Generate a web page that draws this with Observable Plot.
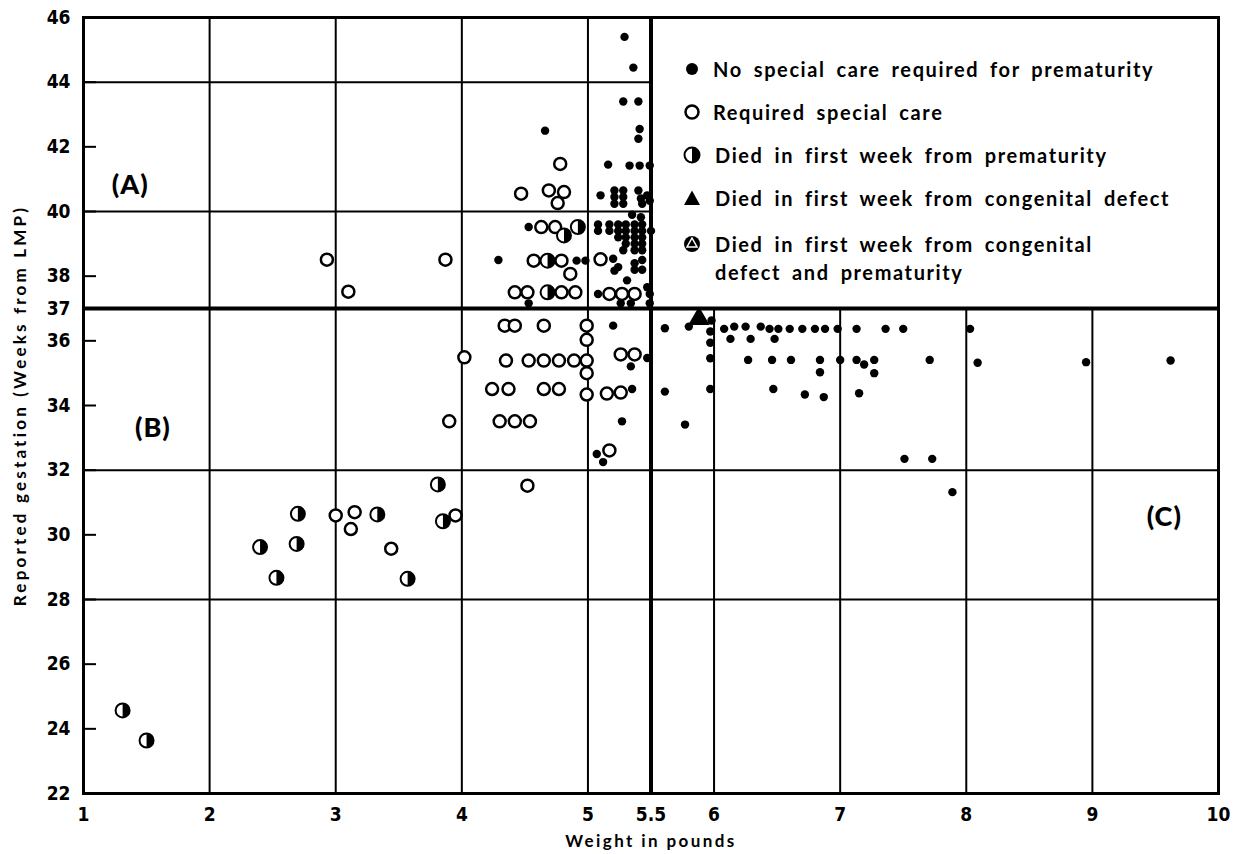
<!DOCTYPE html>
<html>
<head>
<meta charset="utf-8">
<script src="https://cdn.jsdelivr.net/npm/d3@7"></script>
<script src="https://cdn.jsdelivr.net/npm/@observablehq/plot@0.6"></script>
<style>
  body { margin: 0; background: #fff; }
  #wrap { position: relative; width: 1241px; height: 854px; }
  #wrap svg { display: block; }
  .lg { position: absolute; font-family: Lato, "DejaVu Sans", sans-serif; font-weight: 700; font-size: 20px; letter-spacing: 1.6px; word-spacing: 4.5px; color: #000; white-space: nowrap; line-height: 28px; }
  .lgm { position: absolute; }
  [aria-label="x-axis tick label"] text, [aria-label="y-axis tick label"] text { font-stretch: condensed; }
  .ttl { letter-spacing: 2.4px; }
  .ttly { letter-spacing: 3.2px; }
  .rgn { letter-spacing: 1px; }
</style>
</head>
<body>
<div id="wrap"></div>
<script>
// ---------- Data (weight in pounds, reported gestation in weeks) ----------
// No special care required for prematurity (filled dots)
const noCareWeight = [
  5.29, 5.36, 5.28, 5.40, 4.66, 5.41, 5.40,
  5.16, 5.33, 5.41, 5.49,
  5.10, 5.21, 5.28, 5.21, 5.28, 5.21, 5.28, 5.40, 5.47, 5.42, 5.49, 5.43,
  5.42, 5.35,
  5.08, 5.17, 5.24, 5.30, 5.37, 5.43,
  5.08, 5.17, 5.24, 5.30, 5.37, 5.43, 5.50,
  5.24, 5.30, 5.37, 5.43,
  5.30, 5.37, 5.43,
  5.28, 5.37, 5.43,
  4.53, 4.29, 4.91, 4.98, 4.53,
  5.20, 5.24, 5.21, 5.37, 5.43, 5.37, 5.43,
  5.31, 5.47, 5.08, 5.49, 5.26, 5.34, 5.49,
  5.20, 5.47, 5.34, 5.35, 5.27, 5.07, 5.12,
  5.61, 5.80, 5.98, 5.97, 5.97, 5.97, 5.97, 5.61, 5.77,
  6.08, 6.16, 6.25, 6.37, 6.44, 6.51, 6.60, 6.70, 6.80, 6.88, 6.98, 7.13, 7.36, 7.50, 8.03,
  6.13, 6.29, 6.48,
  6.27, 6.46, 6.61, 6.84, 7.00, 7.13, 7.19, 7.27, 7.71,
  6.84, 7.27, 6.47, 6.72, 6.87, 7.15, 7.51, 7.73, 7.89, 8.09, 8.95, 9.62
];
const noCareWeeks = [
  45.40, 44.45, 43.40, 43.40, 42.50, 42.55, 42.25,
  41.45, 41.42, 41.42, 41.42,
  40.50, 40.65, 40.65, 40.45, 40.45, 40.24, 40.24, 40.65, 40.50, 40.40, 40.33, 40.24,
  39.82, 39.90,
  39.60, 39.60, 39.60, 39.60, 39.60, 39.60,
  39.40, 39.40, 39.40, 39.40, 39.40, 39.40, 39.40,
  39.20, 39.20, 39.20, 39.20,
  39.00, 39.00, 39.00,
  38.80, 38.80, 38.80,
  39.52, 38.50, 38.48, 38.48, 37.16,
  38.54, 38.28, 38.17, 38.40, 38.50, 38.20, 38.20,
  37.87, 37.66, 37.45, 37.45, 37.16, 37.16, 37.16,
  36.47, 35.47, 35.21, 34.51, 33.51, 32.50, 32.25,
  36.39, 36.44, 36.63, 36.29, 35.94, 35.46, 34.51, 34.43, 33.41,
  36.37, 36.44, 36.44, 36.44, 36.37, 36.37, 36.37, 36.37, 36.37, 36.37, 36.37, 36.37, 36.37, 36.37, 36.37,
  36.06, 36.06, 36.06,
  35.41, 35.41, 35.41, 35.41, 35.41, 35.41, 35.27, 35.41, 35.41,
  35.03, 35.00, 34.51, 34.34, 34.26, 34.38, 32.35, 32.35, 31.32, 35.32, 35.34, 35.39
];

// Required special care (open circles)
const specialWeight = [
  2.93, 3.10, 3.87, 4.47, 4.69, 4.81, 4.76, 4.78,
  4.63, 4.74, 4.57, 4.79, 4.86, 5.10,
  4.42, 4.52, 4.79, 4.90, 5.17, 5.27, 5.37,
  4.34, 4.42, 4.65, 4.99, 4.99, 4.99, 4.99, 4.99,
  4.02, 4.35, 4.53, 4.65, 4.77, 4.89,
  5.26, 5.37,
  4.24, 4.37, 4.65, 4.77, 5.15, 5.26,
  3.90, 4.30, 4.42, 4.54, 5.17, 4.52,
  3.00, 3.15, 3.12, 3.44, 3.95
];
const specialWeeks = [
  38.51, 37.52, 38.51, 40.55, 40.65, 40.60, 40.26, 41.47,
  39.52, 39.52, 38.48, 38.48, 38.07, 38.52,
  37.50, 37.50, 37.50, 37.50, 37.45, 37.45, 37.45,
  36.47, 36.47, 36.47, 36.47, 36.03, 35.39, 35.00, 34.34,
  35.49, 35.39, 35.39, 35.39, 35.39, 35.39,
  35.58, 35.58,
  34.51, 34.51, 34.51, 34.51, 34.37, 34.40,
  33.51, 33.51, 33.51, 33.51, 32.61, 31.52,
  30.60, 30.70, 30.18, 29.57, 30.60
];

// Died in first week from prematurity (half-filled circles)
const diedPremWeight = [1.31, 1.50, 2.40, 2.53, 2.69, 2.70, 3.33, 3.57, 3.81, 3.85, 4.81, 4.92, 4.68, 4.68];
const diedPremWeeks  = [24.57, 23.64, 29.62, 28.67, 29.72, 30.65, 30.63, 28.64, 31.56, 30.42, 39.26, 39.52, 38.48, 37.50];

// Died in first week from congenital defect (triangle)
const diedDefectWeight = [5.88];
const diedDefectWeeks  = [36.68];

// Axis ticks and reference lines
const xTicks = [1, 2, 3, 4, 5, 5.5, 6, 7, 8, 9, 10];
const yTicks = [22, 24, 26, 28, 30, 32, 34, 36, 37, 38, 40, 42, 44, 46];
const gridXFull = [2, 3, 4, 5];
const gridXLower = [6, 7, 8, 9];
const gridYFull = [28, 32];
const gridYUpperLeft = [40, 44];
const splitWeight = [5.5];
const splitWeeks = [37];
const regionLabels = ["(A)", "(B)", "(C)"];

const legendItems = [
  "No special care required for prematurity",
  "Required special care",
  "Died in first week from prematurity",
  "Died in first week from congenital defect",
  "Died in first week from congenital|defect and prematurity"
];

// ---------- Build ----------
const toRows = (xs, ys) => xs.map((x, i) => ({weight: x, weeks: ys[i]}));
const noCare = toRows(noCareWeight, noCareWeeks);
const special = toRows(specialWeight, specialWeeks);
const diedPrem = toRows(diedPremWeight, diedPremWeeks);
const diedDefect = toRows(diedDefectWeight, diedDefectWeeks);

const halfRight = {
  draw(ctx, size) {
    const r = Math.sqrt(size / Math.PI);
    ctx.moveTo(0, -r);
    ctx.arc(0, 0, r, -Math.PI / 2, Math.PI / 2);
    ctx.closePath();
  }
};

const tickFont = '"Liberation Sans Narrow", "DejaVu Sans Condensed", "DejaVu Sans", sans-serif';
const titleFont = 'Lato, "DejaVu Sans", sans-serif';

const chart = Plot.plot({
  width: 1241,
  height: 854,
  marginLeft: 83,
  marginRight: 23,
  marginTop: 17,
  marginBottom: 61,
  x: {domain: [1, 10]},
  y: {domain: [22, 46]},
  style: {background: "white", color: "black"},
  marks: [
    Plot.ruleX(gridXFull, {stroke: "black", strokeWidth: 2}),
    Plot.ruleX(gridXLower, {y1: 22, y2: 37, stroke: "black", strokeWidth: 2}),
    Plot.ruleY(gridYFull, {stroke: "black", strokeWidth: 2}),
    Plot.ruleY(gridYUpperLeft, {x1: 1, x2: 5.5, stroke: "black", strokeWidth: 2}),
    Plot.ruleX(splitWeight, {stroke: "black", strokeWidth: 4}),
    Plot.ruleY(splitWeeks, {stroke: "black", strokeWidth: 4}),
    Plot.tickY(yTicks, {y: d => d, stroke: "black", strokeWidth: 2, insetRight: 1122}),
    Plot.frame({stroke: "black", strokeWidth: 3}),
    Plot.axisY({ticks: yTicks, tickSize: 0, tickPadding: 13, label: null, fontSize: 19, fontWeight: 700, fontFamily: tickFont}),
    Plot.axisX({ticks: xTicks, tickSize: 0, tickPadding: 14, label: null, fontSize: 19, fontWeight: 700, fontFamily: tickFont, tickFormat: d => String(d)}),
    Plot.text(["Reported gestation (Weeks from LMP)"], {frameAnchor: "left", textAnchor: "middle", rotate: -90, dx: -63, fontSize: 17, fontWeight: 700, fontFamily: titleFont, className: "ttly"}),
    Plot.text(["Weight in pounds"], {frameAnchor: "bottom", textAnchor: "middle", dy: 53, fontSize: 17, fontWeight: 700, fontFamily: titleFont, className: "ttl"}),
    Plot.text(regionLabels, {x: [1.37, 1.55, 9.57], y: [40.8, 33.3, 30.53], fontSize: 27, fontWeight: 900, fontFamily: titleFont, className: "rgn"}),
    Plot.dot(noCare, {x: "weight", y: "weeks", r: 4.2, fill: "black"}),
    Plot.dot(special, {x: "weight", y: "weeks", r: 6, fill: "white", stroke: "black", strokeWidth: 2.5}),
    Plot.dot(diedPrem, {x: "weight", y: "weeks", r: 7, fill: "white", stroke: "black", strokeWidth: 2}),
    Plot.dot(diedPrem, {x: "weight", y: "weeks", r: 7, symbol: halfRight, fill: "black"}),
    Plot.dot(diedDefect, {x: "weight", y: "weeks", r: 8, symbol: "triangle", fill: "black"})
  ]
});

const wrap = document.getElementById("wrap");
wrap.appendChild(chart);

// Legend (inside the upper-right panel)
const markerSvgs = [
  '<svg width="20" height="20"><circle cx="10" cy="10" r="6" fill="black"/></svg>',
  '<svg width="20" height="20"><circle cx="10" cy="10" r="6.5" fill="white" stroke="black" stroke-width="2.5"/></svg>',
  '<svg width="20" height="20"><circle cx="10" cy="10" r="7.5" fill="white" stroke="black" stroke-width="2"/><path d="M10,2.5 A7.5,7.5 0 0 1 10,17.5 Z" fill="black"/></svg>',
  '<svg width="20" height="20"><path d="M10,2.5 L18,17 L2,17 Z" fill="black"/></svg>',
  '<svg width="20" height="20"><circle cx="10" cy="10" r="8" fill="black"/><path d="M10,4 L15,13 L5,13 Z" fill="none" stroke="white" stroke-width="1.5"/></svg>'
];
const rowY = [69, 112, 155, 198, 244];
legendItems.forEach((label, i) => {
  const m = document.createElement("div");
  m.className = "lgm";
  m.style.left = "682px";
  m.style.top = (rowY[i] - 10) + "px";
  m.innerHTML = markerSvgs[i];
  wrap.appendChild(m);
  const t = document.createElement("div");
  t.className = "lg";
  t.style.left = (i < 2 ? 713 : 715) + "px";
  t.style.top = (rowY[i] - 14) + "px";
  t.innerHTML = label.split("|").join("<br>");
  wrap.appendChild(t);
});
</script>
</body>
</html>
